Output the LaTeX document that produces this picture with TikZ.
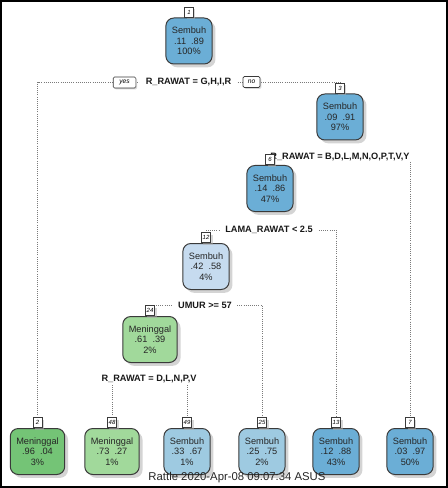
\documentclass[tikz,border=0pt]{standalone}
\usepackage{fontspec}
\setmainfont{Liberation Sans}
\usetikzlibrary{shadows,backgrounds}
\definecolor{bdark}{HTML}{6BAED6}
\definecolor{bmid}{HTML}{9ECAE1}
\definecolor{blight}{HTML}{C6DBEF}
\definecolor{gdark}{HTML}{74C476}
\definecolor{glight}{HTML}{A1D99B}
\definecolor{edge}{HTML}{3A3A3A}
\definecolor{dotc}{HTML}{7A7A7A}
\tikzset{
  x=0.75pt, y=-0.75pt,
  treenode/.style={draw=edge, line width=0.75pt, rounded corners=6pt,
    minimum height=34.5pt, minimum width=34.5pt, inner xsep=4.5pt, inner ysep=2pt,
    align=center, text=black!85,
    font=\fontsize{6.9}{7.9}\selectfont,
    drop shadow={shadow xshift=2.5pt, shadow yshift=-2.5pt, fill=black!30, opacity=0.55}},
  numbox/.style={draw=edge, line width=0.5pt, fill=white, inner sep=1pt,
    minimum height=7.5pt, minimum width=6.5pt, anchor=south,
    font=\fontsize{4.5}{5}\itshape\selectfont,
    drop shadow={shadow xshift=1.5pt, shadow yshift=-1.5pt, fill=black!30, opacity=0.5}},
  splitlab/.style={fill=white, inner xsep=4pt, inner ysep=1pt,
    font=\fontsize{6.9}{8}\bfseries\selectfont, text=black!90},
  yesno/.style={draw=edge, line width=0.5pt, fill=white, rounded corners=1pt,
    inner sep=1pt, minimum height=8.25pt,
    font=\fontsize{5}{5.5}\itshape\selectfont,
    drop shadow={shadow xshift=1pt, shadow yshift=-1pt, fill=black!30, opacity=0.5}},
  conn/.style={dotc, line width=0.6pt, densely dotted}
}
\newcommand{\pr}[2]{#1\hspace{0.55em}#2}
\begin{document}
\begin{tikzpicture}
\useasboundingbox (0,0) rectangle (448,488);
% tree nodes
\node[treenode, fill=bdark] (n1) at (189,41) {Sembuh\\\pr{.11}{.89}\\100\%};
\node[treenode, fill=bdark] (n3) at (340,117) {Sembuh\\\pr{.09}{.91}\\97\%};
\node[treenode, fill=bdark] (n6) at (270,188.5) {Sembuh\\\pr{.14}{.86}\\47\%};
\node[treenode, fill=blight] (n12) at (206,266.5) {Sembuh\\\pr{.42}{.58}\\4\%};
\node[treenode, fill=glight] (n24) at (150,339.5) {Meninggal\\\pr{.61}{.39}\\2\%};
\node[treenode, fill=gdark] (n2) at (37.5,451.5) {Meninggal\\\pr{.96}{.04}\\3\%};
\node[treenode, fill=glight] (n48) at (112,451.5) {Meninggal\\\pr{.73}{.27}\\1\%};
\node[treenode, fill=bmid] (n49) at (187,451.5) {Sembuh\\\pr{.33}{.67}\\1\%};
\node[treenode, fill=bmid] (n25) at (262,451.5) {Sembuh\\\pr{.25}{.75}\\2\%};
\node[treenode, fill=bdark] (n13) at (336,451.5) {Sembuh\\\pr{.12}{.88}\\43\%};
\node[treenode, fill=bdark] (n7) at (410,451.5) {Sembuh\\\pr{.03}{.97}\\50\%};
% split labels
\node[splitlab] (s1) at (188.5,82) {R\_RAWAT = G,H,I,R};
\node[splitlab] (s3) at (340,157) {R\_RAWAT = B,D,L,M,N,O,P,T,V,Y};
\node[splitlab] (s6) at (269,230) {LAMA\_RAWAT < 2.5};
\node[splitlab] (s12) at (205,305) {UMUR >= 57};
\node[splitlab] (s24) at (149,379) {R\_RAWAT = D,L,N,P,V};
\node[yesno, minimum width=17pt] (yes) at (124.5,82.5) {yes};
\node[yesno, minimum width=12.75pt] (no) at (251.5,82) {no};
% number boxes
\node[numbox] (l1) at (n1.north) {1};
\node[numbox] (l3) at (n3.north) {3};
\node[numbox] (l6) at (n6.north) {6};
\node[numbox] (l12) at (n12.north) {12};
\node[numbox] (l24) at (n24.north) {24};
\node[numbox] (l2) at (n2.north) {2};
\node[numbox] (l48) at (n48.north) {48};
\node[numbox] (l49) at (n49.north) {49};
\node[numbox] (l25) at (n25.north) {25};
\node[numbox] (l13) at (n13.north) {13};
\node[numbox] (l7) at (n7.north) {7};
% connectors
\begin{scope}[on background layer]
\fill[white] (0,0) rectangle (448,488);
\draw[conn] (l2.north) |- (s1.center) -| (l3.north);
\draw[conn] (l6.north) |- (s3.center) -| (l7.north);
\draw[conn] (l12.north) |- (s6.center) -| (l13.north);
\draw[conn] (l24.north) |- (s12.center) -| (l25.north);
\draw[conn] (l48.north) |- (s24.center) -| (l49.north);
\end{scope}
% footer
\node[font=\fontsize{8.5}{9}\selectfont, text=black!85] (foot) at (237,478) {Rattle 2020-Apr-08 09:07:34 ASUS};
% frame
\draw[black, line width=1.5pt] (1,1) rectangle (447,487);
\end{tikzpicture}
\end{document}
